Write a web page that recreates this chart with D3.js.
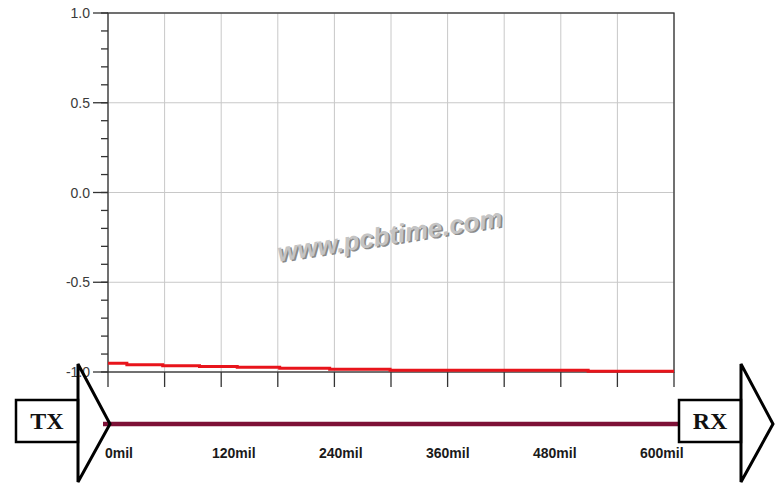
<!DOCTYPE html>
<html>
<head>
<meta charset="utf-8">
<style>
    body { margin: 0; background: #fff; }
    svg { display: block; }
    .ylab { font-family: "Liberation Sans", Arial, sans-serif; font-size: 14px; fill: #3a3a3a; }
    .mil { font-family: "Liberation Sans", Arial, sans-serif; font-size: 14px; font-weight: bold; fill: #1a1a1a; }
    .port { font-family: "Liberation Serif", "Times New Roman", serif; font-size: 24px; font-weight: bold; fill: #111; }
</style>
<script src="https://cdn.jsdelivr.net/npm/d3@7"></script>
</head>
<body>
<svg id="chart" width="780" height="487"></svg>
<script>
// impedance-like trace along the line (mil, value)
var distMil = [0, 20, 58, 97, 137, 182, 235, 299, 509, 600];
var traceVal = [-0.951, -0.959, -0.965, -0.970, -0.974, -0.979, -0.985, -0.990, -0.996, -0.996];

var yTicks = [1.0, 0.5, 0.0, -0.5, -1.0];
var yMinor = d3.range(-1.0, 1.0001, 0.1);
var xGrid = d3.range(0, 600.1, 60);
var milLabels = [0, 120, 240, 360, 480, 600];

var svg = d3.select("#chart");
var margin = { top: 13, right: 106, bottom: 115, left: 108 };
var W = 780, H = 487;

var x = d3.scaleLinear().domain([0, 600]).range([margin.left, W - margin.right]);
var y = d3.scaleLinear().domain([-1, 1]).range([H - margin.bottom, margin.top]);
// labels under the transmission line are spaced on their own
var xLab = d3.scaleLinear().domain([0, 600]).range([105, 640]);

// grid
svg.append("g").selectAll("line").data(xGrid).join("line")
    .attr("x1", function (d) { return x(d); }).attr("x2", function (d) { return x(d); })
    .attr("y1", y(1)).attr("y2", y(-1))
    .attr("stroke", "#c8c8c8").attr("stroke-width", 1);
svg.append("g").selectAll("line").data(yTicks).join("line")
    .attr("x1", x(0)).attr("x2", x(600))
    .attr("y1", function (d) { return y(d); }).attr("y2", function (d) { return y(d); })
    .attr("stroke", "#c8c8c8").attr("stroke-width", 1);

// watermark
var wm = svg.append("g").attr("transform", "translate(391,244) rotate(-9)");
wm.append("text").attr("x", 1.5).attr("y", 1.5).attr("text-anchor", "middle")
    .attr("font-family", "Liberation Sans, Arial, sans-serif").attr("font-size", 26)
    .attr("font-weight", "bold").attr("font-style", "italic")
    .attr("fill", "#8a8a8a").text("www.pcbtime.com");
wm.append("text").attr("text-anchor", "middle")
    .attr("font-family", "Liberation Sans, Arial, sans-serif").attr("font-size", 26)
    .attr("font-weight", "bold").attr("font-style", "italic")
    .attr("fill", "#c4c4c4").text("www.pcbtime.com");

// frame
svg.append("rect").attr("x", x(0)).attr("y", y(1))
    .attr("width", x(600) - x(0)).attr("height", y(-1) - y(1))
    .attr("fill", "none").attr("stroke", "#333").attr("stroke-width", 1.3);

// y ticks
svg.append("g").selectAll("line").data(yMinor).join("line")
    .attr("x1", x(0) - 7).attr("x2", x(0))
    .attr("y1", function (d) { return y(d); }).attr("y2", function (d) { return y(d); })
    .attr("stroke", "#333").attr("stroke-width", 1.3);
svg.append("g").selectAll("line").data(yTicks).join("line")
    .attr("x1", x(0) - 15).attr("x2", x(0))
    .attr("y1", function (d) { return y(d); }).attr("y2", function (d) { return y(d); })
    .attr("stroke", "#333").attr("stroke-width", 1.3);
svg.append("g").selectAll("text").data(yTicks).join("text")
    .attr("class", "ylab").attr("x", x(0) - 18)
    .attr("y", function (d) { return y(d); }).attr("dy", "0.36em")
    .attr("text-anchor", "end")
    .text(function (d) { return d.toFixed(1); });

// x ticks
svg.append("g").selectAll("line").data(xGrid).join("line")
    .attr("x1", function (d) { return x(d); }).attr("x2", function (d) { return x(d); })
    .attr("y1", y(-1)).attr("y2", y(-1) + 15)
    .attr("stroke", "#333").attr("stroke-width", 1.3);

// trace
var pts = distMil.map(function (d, i) { return [d, traceVal[i]]; });
svg.append("path").datum(pts)
    .attr("fill", "none").attr("stroke", "#e8141b").attr("stroke-width", 3)
    .attr("d", d3.line().curve(d3.curveStepAfter)
        .x(function (d) { return x(d[0]); })
        .y(function (d) { return y(d[1]); }));

// transmission line diagram
var lineY = 424;
svg.append("line").attr("x1", x(0) - 5).attr("x2", x(600) + 4)
    .attr("y1", lineY).attr("y2", lineY)
    .attr("stroke", "#7d1036").attr("stroke-width", 4.5);

function port(bx, label) {
    svg.append("rect").attr("x", bx).attr("y", 400).attr("width", 62).attr("height", 42)
        .attr("fill", "#fff").attr("stroke", "#000").attr("stroke-width", 2.5);
    svg.append("text").attr("class", "port").attr("x", bx + 31).attr("y", 429)
        .attr("text-anchor", "middle").text(label);
    svg.append("path")
        .attr("d", "M" + (bx + 62) + ",364 L" + (bx + 94) + "," + lineY + " L" + (bx + 62) + ",482 Z")
        .attr("fill", "none").attr("stroke", "#000").attr("stroke-width", 3).attr("stroke-linejoin", "miter");
}
port(16, "TX");
port(679, "RX");

svg.append("g").selectAll("text").data(milLabels).join("text")
    .attr("class", "mil").attr("x", function (d) { return xLab(d); }).attr("y", 458)
    .text(function (d) { return d + "mil"; });
</script>
</body>
</html>
